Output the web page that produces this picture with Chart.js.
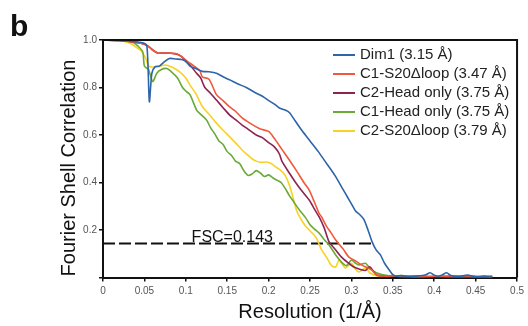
<!DOCTYPE html>
<html>
<head>
<meta charset="utf-8">
<script src="https://cdn.jsdelivr.net/npm/chart.js@4"></script>
<style>
  html, body { margin: 0; padding: 0; background: #fff; }
  #wrap { position: relative; width: 528px; height: 326px; }
</style>
</head>
<body>
<div id="wrap"><canvas id="fsc" width="528" height="326"></canvas></div>
<script>
'use strict';

// resolution (1/Å) and FSC values
const dim1Res = [0, 0.01, 0.02, 0.03, 0.04, 0.048, 0.053, 0.056, 0.059, 0.063, 0.068, 0.073, 0.08, 0.088, 0.095, 0.1, 0.105, 0.112, 0.12, 0.128, 0.137, 0.145, 0.153, 0.163, 0.173, 0.183, 0.193, 0.2, 0.207, 0.213, 0.22, 0.225, 0.232, 0.24, 0.25, 0.26, 0.27, 0.28, 0.29, 0.295, 0.3, 0.305, 0.31, 0.315, 0.32, 0.325, 0.33, 0.335, 0.34, 0.345, 0.35, 0.355, 0.36, 0.37, 0.38, 0.39, 0.395, 0.4, 0.405, 0.41, 0.415, 0.42, 0.43, 0.44, 0.45, 0.46, 0.47];
const dim1Fsc = [1.0, 0.999, 0.998, 0.996, 0.992, 0.988, 0.975, 0.74, 0.86, 0.888, 0.89, 0.905, 0.922, 0.92, 0.918, 0.91, 0.89, 0.88, 0.868, 0.866, 0.86, 0.845, 0.832, 0.815, 0.8, 0.78, 0.762, 0.745, 0.73, 0.714, 0.705, 0.695, 0.66, 0.62, 0.575, 0.53, 0.48, 0.43, 0.37, 0.34, 0.31, 0.28, 0.265, 0.245, 0.2, 0.15, 0.115, 0.095, 0.06, 0.035, 0.012, 0.005, 0.008, 0.003, 0.006, 0.012, 0.02, 0.01, 0.005, 0.012, 0.02, 0.008, 0.004, 0.01, 0.003, 0.006, 0.002];

const c1LoopRes = [0, 0.02, 0.04, 0.05, 0.056, 0.06, 0.066, 0.07, 0.08, 0.089, 0.095, 0.102, 0.11, 0.117, 0.12, 0.128, 0.137, 0.145, 0.153, 0.16, 0.168, 0.175, 0.185, 0.19, 0.2, 0.207, 0.213, 0.22, 0.225, 0.233, 0.243, 0.249, 0.255, 0.261, 0.264, 0.27, 0.275, 0.281, 0.29, 0.297, 0.305, 0.312, 0.32, 0.325, 0.33, 0.34, 0.35, 0.36, 0.38, 0.4, 0.42, 0.44, 0.46, 0.47];
const c1LoopFsc = [1.0, 0.998, 0.99, 0.982, 0.97, 0.958, 0.945, 0.945, 0.945, 0.942, 0.93, 0.91, 0.89, 0.87, 0.845, 0.835, 0.77, 0.745, 0.718, 0.7, 0.672, 0.655, 0.634, 0.625, 0.615, 0.585, 0.555, 0.52, 0.495, 0.453, 0.398, 0.368, 0.32, 0.27, 0.255, 0.215, 0.19, 0.158, 0.12, 0.086, 0.07, 0.053, 0.04, 0.03, 0.012, 0.006, 0.008, 0.003, 0.005, 0.004, 0.006, 0.003, 0.005, 0.003];

const c2HeadRes = [0, 0.02, 0.04, 0.05, 0.056, 0.06, 0.066, 0.07, 0.08, 0.089, 0.095, 0.1, 0.105, 0.113, 0.118, 0.123, 0.13, 0.137, 0.145, 0.153, 0.16, 0.168, 0.175, 0.185, 0.192, 0.2, 0.207, 0.213, 0.216, 0.225, 0.233, 0.24, 0.249, 0.255, 0.261, 0.267, 0.273, 0.28, 0.288, 0.295, 0.303, 0.31, 0.317, 0.322, 0.33, 0.34, 0.35, 0.36, 0.38, 0.4, 0.42, 0.44, 0.46, 0.47];
const c2HeadFsc = [1.0, 0.998, 0.99, 0.982, 0.97, 0.958, 0.945, 0.945, 0.945, 0.94, 0.93, 0.91, 0.895, 0.86, 0.84, 0.8, 0.775, 0.747, 0.715, 0.684, 0.665, 0.642, 0.625, 0.6, 0.59, 0.568, 0.55, 0.52, 0.49, 0.44, 0.398, 0.365, 0.326, 0.29, 0.255, 0.21, 0.15, 0.12, 0.086, 0.065, 0.044, 0.035, 0.03, 0.045, 0.012, 0.005, 0.008, 0.004, 0.006, 0.003, 0.005, 0.004, 0.003, 0.005];

const c1HeadOnlyRes = [0, 0.02, 0.03, 0.036, 0.042, 0.048, 0.05, 0.055, 0.06, 0.065, 0.07, 0.077, 0.083, 0.09, 0.096, 0.1, 0.105, 0.113, 0.117, 0.125, 0.13, 0.135, 0.14, 0.145, 0.15, 0.155, 0.16, 0.165, 0.17, 0.175, 0.18, 0.185, 0.19, 0.195, 0.2, 0.205, 0.21, 0.215, 0.22, 0.225, 0.23, 0.237, 0.245, 0.25, 0.255, 0.261, 0.267, 0.273, 0.281, 0.288, 0.294, 0.3, 0.305, 0.309, 0.317, 0.322, 0.33, 0.34, 0.35, 0.36, 0.38, 0.4, 0.42, 0.44, 0.46, 0.47];
const c1HeadOnlyFsc = [1.0, 0.998, 0.995, 0.99, 0.975, 0.95, 0.89, 0.875, 0.825, 0.86, 0.875, 0.88, 0.865, 0.84, 0.8, 0.785, 0.77, 0.705, 0.69, 0.663, 0.63, 0.605, 0.575, 0.56, 0.53, 0.515, 0.49, 0.48, 0.45, 0.43, 0.436, 0.45, 0.44, 0.425, 0.432, 0.42, 0.41, 0.4, 0.375, 0.345, 0.32, 0.285, 0.25, 0.222, 0.205, 0.187, 0.16, 0.137, 0.095, 0.065, 0.05, 0.074, 0.06, 0.053, 0.06, 0.04, 0.02, 0.01, 0.005, 0.008, 0.003, 0.005, 0.004, 0.006, 0.003, 0.004];

const c2LoopRes = [0, 0.02, 0.03, 0.036, 0.042, 0.047, 0.052, 0.055, 0.06, 0.066, 0.075, 0.083, 0.093, 0.1, 0.105, 0.112, 0.12, 0.13, 0.137, 0.145, 0.153, 0.16, 0.168, 0.175, 0.18, 0.185, 0.19, 0.197, 0.203, 0.209, 0.215, 0.22, 0.225, 0.23, 0.234, 0.24, 0.245, 0.249, 0.257, 0.264, 0.27, 0.276, 0.281, 0.285, 0.29, 0.293, 0.3, 0.305, 0.309, 0.317, 0.322, 0.33, 0.34, 0.36, 0.38, 0.4, 0.42, 0.44, 0.46, 0.47];
const c2LoopFsc = [1.0, 0.997, 0.99, 0.98, 0.965, 0.95, 0.92, 0.89, 0.886, 0.886, 0.895, 0.886, 0.865, 0.84, 0.81, 0.775, 0.72, 0.68, 0.65, 0.62, 0.592, 0.567, 0.537, 0.515, 0.5, 0.49, 0.485, 0.486, 0.48, 0.465, 0.45, 0.43, 0.39, 0.33, 0.28, 0.24, 0.215, 0.2, 0.17, 0.116, 0.085, 0.05, 0.044, 0.074, 0.05, 0.04, 0.06, 0.035, 0.023, 0.04, 0.02, 0.008, 0.004, 0.006, 0.003, 0.005, 0.003, 0.004, 0.003, 0.004];

const seriesLabels = ['Dim1 (3.15 Å)', 'C1-S20Δloop (3.47 Å)', 'C2-Head only (3.75 Å)', 'C1-Head only (3.75 Å)', 'C2-S20Δloop (3.79 Å)'];
const seriesColors = ['#2e64a8', '#f1593a', '#8c2351', '#6aaa38', '#f8d223'];

const fscThreshold = 0.143;
const fscLineRes = [0, 0.325];

const xTicks = [0, 0.05, 0.1, 0.15, 0.2, 0.25, 0.3, 0.35, 0.4, 0.45, 0.5];
const yTicks = [0, 0.2, 0.4, 0.6, 0.8, 1.0];

const FONT = "'Liberation Sans', Arial, Helvetica, sans-serif";

const pairs = (xs, ys) => xs.map((x, i) => ({ x, y: ys[i] }));
const seriesData = [
  pairs(dim1Res, dim1Fsc),
  pairs(c1LoopRes, c1LoopFsc),
  pairs(c2HeadRes, c2HeadFsc),
  pairs(c1HeadOnlyRes, c1HeadOnlyFsc),
  pairs(c2LoopRes, c2LoopFsc),
];

const datasets = seriesData.map((data, i) => ({
  label: seriesLabels[i],
  data,
  borderColor: seriesColors[i],
  borderWidth: 1.6,
  pointRadius: 0,
  tension: 0.25,
  fill: false,
}));
datasets.push({
  label: 'FSC=0.143',
  data: fscLineRes.map(x => ({ x, y: fscThreshold })),
  borderColor: '#111',
  borderWidth: 2,
  borderDash: [12, 4],
  pointRadius: 0,
  fill: false,
});

// frame, legend, labels and panel letter
const decor = {
  id: 'decor',
  afterDraw(chart) {
    const { ctx, chartArea: a, scales: { x, y } } = chart;
    ctx.save();
    ctx.strokeStyle = '#111';
    ctx.lineWidth = 2;
    ctx.beginPath();
    ctx.moveTo(a.left, a.top);
    ctx.lineTo(a.right, a.top);
    ctx.lineTo(a.right, a.bottom);
    ctx.stroke();

    // legend
    ctx.font = `15px ${FONT}`;
    ctx.textBaseline = 'middle';
    seriesLabels.forEach((lab, i) => {
      const ly = 55 + i * 19;
      ctx.strokeStyle = seriesColors[i];
      ctx.lineWidth = 2;
      ctx.beginPath();
      ctx.moveTo(333, ly);
      ctx.lineTo(355, ly);
      ctx.stroke();
      ctx.fillStyle = '#222';
      ctx.fillText(lab, 360, ly);
    });

    // threshold label
    ctx.font = `16px ${FONT}`;
    ctx.textBaseline = 'alphabetic';
    ctx.fillStyle = '#111';
    ctx.fillText('FSC=0.143', x.getPixelForValue(0.107), y.getPixelForValue(fscThreshold) - 2);

    // y title, sits a little below the plot centre in the original
    ctx.save();
    ctx.translate(69, 168);
    ctx.rotate(-Math.PI / 2);
    ctx.font = `20px ${FONT}`;
    ctx.textAlign = 'center';
    ctx.textBaseline = 'middle';
    ctx.fillText('Fourier Shell Correlation', 0, 0);
    ctx.restore();

    ctx.font = `bold 30px ${FONT}`;
    ctx.fillText('b', 10, 36);
    ctx.restore();
  },
};

new Chart(document.getElementById('fsc'), {
  type: 'line',
  data: { datasets },
  options: {
    responsive: false,
    animation: false,
    layout: { padding: { top: 40, right: 9, bottom: 0, left: 0 } },
    plugins: { legend: { display: false }, tooltip: { enabled: false } },
    scales: {
      x: {
        type: 'linear',
        min: 0, max: 0.5,
        afterBuildTicks: s => { s.ticks = xTicks.map(v => ({ value: v })); },
        afterFit: s => { s.height = 48.5; },
        ticks: {
          color: '#555',
          font: { family: FONT, size: 10 },
          padding: 4,
          maxRotation: 0,
          callback: v => String(Number(v.toFixed(2))),
        },
        grid: { display: true, drawOnChartArea: false, drawTicks: true, tickLength: 4, color: '#111', lineWidth: 1.5 },
        border: { display: true, color: '#111', width: 2 },
        title: {
          display: true,
          text: 'Resolution (1/Å)',
          color: '#111',
          font: { family: FONT, size: 20 },
          padding: { top: 0, bottom: 2 },
        },
      },
      y: {
        min: 0, max: 1,
        afterBuildTicks: s => { s.ticks = yTicks.map(v => ({ value: v })); },
        afterFit: s => { s.width = 103; },
        ticks: {
          color: '#555',
          font: { family: FONT, size: 10 },
          padding: 2,
          callback: v => (v === 0 ? '' : v.toFixed(1)),
        },
        grid: { display: true, drawOnChartArea: false, drawTicks: true, tickLength: 4, color: '#111', lineWidth: 1.5 },
        border: { display: true, color: '#111', width: 2 },
      },
    },
  },
  plugins: [decor],
});
</script>
</body>
</html>
